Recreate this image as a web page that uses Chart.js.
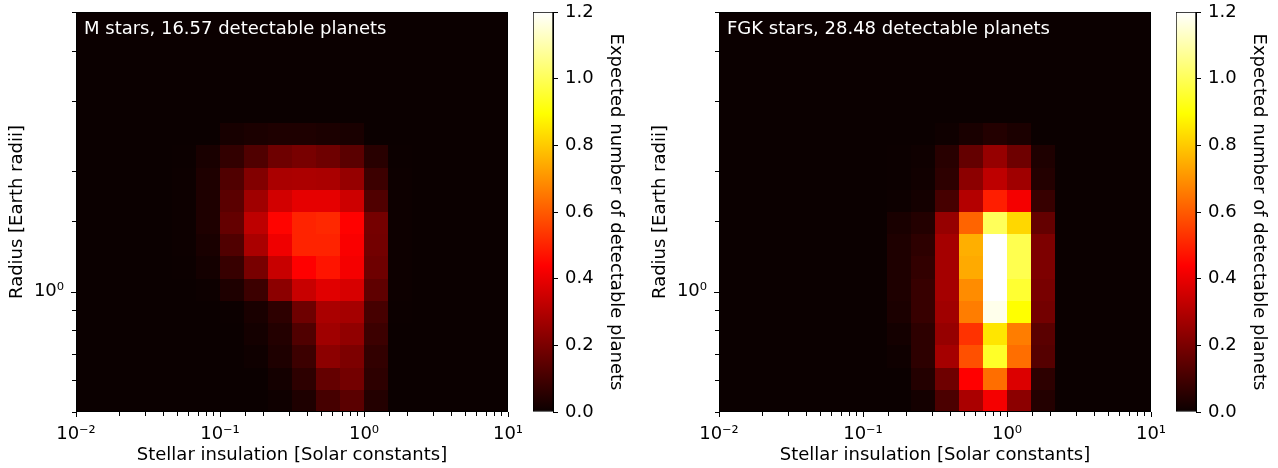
<!DOCTYPE html>
<html>
<head>
<meta charset="utf-8">
<script src="https://cdn.jsdelivr.net/npm/chart.js@4"></script>
<style>
  html, body { margin: 0; padding: 0; background: #fff; overflow: hidden; }
  #wrap { position: relative; width: 1278px; height: 468px; overflow: hidden; }
  canvas { position: absolute; top: 0; }
</style>
</head>
<body>
<div id="wrap">
  <canvas id="heatM" width="540" height="468" style="left:0px"></canvas>
  <canvas id="barM" width="118" height="468" style="left:522px"></canvas>
  <canvas id="heatFGK" width="540" height="468" style="left:643px"></canvas>
  <canvas id="barFGK" width="118" height="468" style="left:1165px"></canvas>
</div>
<script>
// bin edges: insolation 6 bins per decade, radius 18 bins per decade
const insolationEdges = [0.01, 0.01468, 0.02154, 0.03162, 0.04642, 0.06813, 0.1, 0.1468, 0.2154,
    0.3162, 0.4642, 0.6813, 1, 1.468, 2.154, 3.162, 4.642, 6.813, 10];
const radiusEdges = [0.5, 0.5683, 0.6458, 0.7339, 0.834, 0.9479, 1.0772, 1.2242, 1.3913,
    1.5811, 1.7969, 2.0421, 2.3208, 2.6375, 2.9974, 3.4064, 3.8713, 4.3996, 5];

// expected detectable planets per cell, rows from largest radius to smallest
const mStarCounts = [
    [0,0,0,0,0,0,0,0,0,0,0,0,0,0,0,0,0,0],
    [0,0,0,0,0,0,0,0,0,0,0,0,0,0,0,0,0,0],
    [0,0,0,0,0,0,0,0,0,0,0,0,0,0,0,0,0,0],
    [0,0,0,0,0,0,0,0,0,0,0,0,0,0,0,0,0,0],
    [0,0,0,0,0,0,0,0,0,0,0,0,0,0,0,0,0,0],
    [0,0,0,0,0,0,.022,.03,.035,.035,.03,.026,0,0,0,0,0,0],
    [0,0,0,0,.003,.026,.07,.124,.178,.196,.178,.142,.053,.003,0,0,0,0],
    [0,0,0,0,.005,.035,.124,.214,.286,.29,.286,.25,.089,.004,0,0,0,0],
    [0,0,0,0,.005,.035,.142,.268,.357,.393,.393,.348,.124,.005,0,0,0,0],
    [0,0,0,0,.005,.035,.16,.322,.445,.5,.51,.44,.19,.005,0,0,0,0],
    [0,0,0,0,.004,.026,.124,.286,.411,.5,.5,.43,.187,.005,0,0,0,0],
    [0,0,0,0,.003,.017,.08,.196,.339,.438,.474,.42,.178,.004,0,0,0,0],
    [0,0,0,0,0,.005,.035,.089,.232,.339,.384,.366,.151,.004,0,0,0,0],
    [0,0,0,0,0,0,.003,.026,.062,.178,.286,.277,.106,.003,0,0,0,0],
    [0,0,0,0,0,0,0,.017,.044,.124,.268,.241,.089,0,0,0,0,0],
    [0,0,0,0,0,0,0,.008,.035,.089,.232,.205,.07,0,0,0,0,0],
    [0,0,0,0,0,0,0,0,.017,.062,.16,.187,.062,0,0,0,0,0],
    [0,0,0,0,0,0,0,0,.008,.035,.107,.142,.044,0,0,0,0,0],
];
const fgkStarCounts = [
    [0,0,0,0,0,0,0,0,0,0,0,0,0,0,0,0,0,0],
    [0,0,0,0,0,0,0,0,0,0,0,0,0,0,0,0,0,0],
    [0,0,0,0,0,0,0,0,0,0,0,0,0,0,0,0,0,0],
    [0,0,0,0,0,0,0,0,0,0,0,0,0,0,0,0,0,0],
    [0,0,0,0,0,0,0,0,0,0,0,0,0,0,0,0,0,0],
    [0,0,0,0,0,0,0,0,0,.008,.026,.044,.03,0,0,0,0,0],
    [0,0,0,0,0,0,0,.003,.008,.053,.16,.25,.178,.035,0,0,0,0],
    [0,0,0,0,0,0,0,.003,.012,.062,.232,.322,.268,.044,0,0,0,0],
    [0,0,0,0,0,0,0,.005,.017,.107,.304,.492,.42,.08,0,0,0,0],
    [0,0,0,0,0,0,0,.026,.044,.25,.617,1.003,.823,.16,0,0,0,0],
    [0,0,0,0,0,0,0,.035,.062,.277,.752,1.25,.99,.205,0,0,0,0],
    [0,0,0,0,0,0,0,.035,.07,.277,.743,1.28,.99,.205,0,0,0,0],
    [0,0,0,0,0,0,0,.035,.08,.277,.689,1.25,.955,.196,0,0,0,0],
    [0,0,0,0,0,0,0,.03,.08,.268,.662,1.176,.895,.187,0,0,0,0],
    [0,0,0,0,0,0,0,.017,.062,.25,.528,.85,.662,.142,0,0,0,0],
    [0,0,0,0,0,0,0,.008,.062,.277,.581,.943,.635,.133,0,0,0,0],
    [0,0,0,0,0,0,0,0,.044,.178,.438,.635,.375,.062,0,0,0,0],
    [0,0,0,0,0,0,0,0,.017,.116,.286,.42,.232,.044,0,0,0,0],
];

const panelTitles = ['M stars, 16.57 detectable planets', 'FGK stars, 28.48 detectable planets'];
const xTickValues = [0.01, 0.1, 1, 10];
const xTickLabels = ['10\u207B\u00B2', '10\u207B\u00B9', '10\u2070', '10\u00B9'];
const yTickValues = [1];
const yTickLabels = ['10\u2070'];
const colorbarTicks = [0, 0.2, 0.4, 0.6, 0.8, 1.0, 1.2];
const vmax = 1.2;

Chart.defaults.font.family = 'DejaVu Sans';
Chart.defaults.font.size = 18;
Chart.defaults.color = '#000';

// matplotlib "hot" colormap
function hot(v) {
    const t = Math.min(Math.max(v / vmax, 0), 1);
    const r = t < 0.365079 ? 0.0416 + 0.9584 * t / 0.365079 : 1;
    const g = t < 0.365079 ? 0 : (t < 0.746032 ? (t - 0.365079) / 0.380953 : 1);
    const b = t < 0.746032 ? 0 : (t - 0.746032) / 0.253968;
    return 'rgb(' + Math.round(r * 255) + ',' + Math.round(g * 255) + ',' + Math.round(b * 255) + ')';
}

function labelFor(values, labels) {
    return function (v) {
        for (let i = 0; i < values.length; i++) {
            if (Math.abs(v - values[i]) / values[i] < 1e-6) return labels[i];
        }
        return '';
    };
}

function isMajor(v, values) {
    return values.some(m => Math.abs(v - m) / m < 1e-6);
}

// layout is pinned by the padding options, not by tick label overflow
function noLabelPadding(s) {
    s.paddingTop = 0;
    s.paddingBottom = 0;
    s.paddingLeft = 0;
    s.paddingRight = 0;
}

const heatPlugin = {
    id: 'heat',
    beforeDatasetsDraw(chart) {
        const {ctx, chartArea, scales: {x, y}} = chart;
        ctx.save();
        ctx.beginPath();
        ctx.rect(chartArea.left, chartArea.top, chartArea.right - chartArea.left, chartArea.bottom - chartArea.top);
        ctx.clip();
        chart.data.datasets[0].data.forEach(c => {
            const x0 = Math.round(x.getPixelForValue(c.x0));
            const x1 = Math.round(x.getPixelForValue(c.x1));
            const y0 = Math.round(y.getPixelForValue(c.y0));
            const y1 = Math.round(y.getPixelForValue(c.y1));
            ctx.fillStyle = hot(c.v);
            ctx.fillRect(x0, y1, x1 - x0, y0 - y1);
        });
        ctx.restore();
    },
    afterDraw(chart, args, opts) {
        const {ctx, chartArea, scales: {x, y}} = chart;
        ctx.save();
        ctx.strokeStyle = '#000';
        ctx.lineWidth = 1;
        ctx.strokeRect(chartArea.left + 0.5, chartArea.top + 0.5,
            chartArea.right - chartArea.left - 1, chartArea.bottom - chartArea.top - 1);
        x.ticks.forEach(t => {
            const px = Math.round(x.getPixelForValue(t.value)) + 0.5;
            const len = isMajor(t.value, xTickValues) ? 5 : 4;
            ctx.beginPath();
            ctx.moveTo(px, chartArea.bottom);
            ctx.lineTo(px, chartArea.bottom + len);
            ctx.stroke();
        });
        y.ticks.forEach(t => {
            const py = Math.round(y.getPixelForValue(t.value)) + 0.5;
            const len = isMajor(t.value, yTickValues) ? 5 : 4;
            ctx.beginPath();
            ctx.moveTo(chartArea.left, py);
            ctx.lineTo(chartArea.left - len, py);
            ctx.stroke();
        });
        ctx.fillStyle = '#fff';
        ctx.font = '18px "DejaVu Sans"';
        ctx.textBaseline = 'middle';
        ctx.fillText(opts.title, chartArea.left + 8, chartArea.top + 17);
        ctx.restore();
    }
};

function makeHeatmap(id, counts, title) {
    const cells = [];
    counts.forEach((row, r) => {
        const j = counts.length - 1 - r;
        row.forEach((v, i) => {
            cells.push({
                x: Math.sqrt(insolationEdges[i] * insolationEdges[i + 1]),
                y: Math.sqrt(radiusEdges[j] * radiusEdges[j + 1]),
                x0: insolationEdges[i], x1: insolationEdges[i + 1],
                y0: radiusEdges[j], y1: radiusEdges[j + 1],
                v: v
            });
        });
    });
    return new Chart(document.getElementById(id), {
        type: 'scatter',
        data: {datasets: [{data: cells, pointRadius: 0, pointHoverRadius: 0}]},
        plugins: [heatPlugin],
        options: {
            responsive: false,
            animation: false,
            events: [],
            layout: {padding: {top: 12, right: 32, bottom: 0, left: 0}},
            plugins: {
                legend: {display: false},
                tooltip: {enabled: false},
                heat: {title: title}
            },
            scales: {
                x: {
                    type: 'logarithmic',
                    min: 0.01,
                    max: 10,
                    grid: {display: false, drawTicks: false},
                    border: {display: false},
                    ticks: {autoSkip: false, maxRotation: 0, padding: 12, callback: labelFor(xTickValues, xTickLabels)},
                    title: {display: true, text: 'Stellar insulation [Solar constants]', padding: {top: 0, bottom: 2}},
                    afterFit: s => { s.height = 56; noLabelPadding(s); }
                },
                y: {
                    type: 'logarithmic',
                    min: 0.5,
                    max: 5,
                    grid: {display: false, drawTicks: false},
                    border: {display: false},
                    ticks: {autoSkip: false, padding: 12, callback: labelFor(yTickValues, yTickLabels)},
                    title: {display: true, text: 'Radius [Earth radii]', padding: {top: 7, bottom: 0}},
                    afterFit: s => { s.width = 76; noLabelPadding(s); }
                }
            }
        }
    });
}

function makeColorbar(id) {
    return new Chart(document.getElementById(id), {
        type: 'bar',
        data: {
            labels: [''],
            datasets: [{
                data: [[0, vmax]],
                backgroundColor: ctx => {
                    const chart = ctx.chart;
                    if (!chart.chartArea) return '#000';
                    const y = chart.scales.y;
                    const g = chart.ctx.createLinearGradient(0, y.getPixelForValue(0), 0, y.getPixelForValue(vmax));
                    g.addColorStop(0, 'rgb(11,0,0)');
                    g.addColorStop(0.365079, 'rgb(255,0,0)');
                    g.addColorStop(0.746032, 'rgb(255,255,0)');
                    g.addColorStop(1, 'rgb(255,255,255)');
                    return g;
                },
                borderColor: '#000',
                borderWidth: 1,
                borderSkipped: false,
                barPercentage: 1,
                categoryPercentage: 1
            }]
        },
        options: {
            responsive: false,
            animation: false,
            events: [],
            layout: {padding: {top: 12, right: 0, bottom: 56, left: 11}},
            plugins: {legend: {display: false}, tooltip: {enabled: false}},
            scales: {
                x: {display: false},
                y: {
                    position: 'right',
                    min: 0,
                    max: vmax,
                    grid: {drawOnChartArea: false, tickLength: 5, color: '#000'},
                    border: {display: true, color: '#000'},
                    ticks: {padding: 7, callback: v => v.toFixed(1)},
                    afterBuildTicks: s => { s.ticks = colorbarTicks.map(v => ({value: v})); },
                    title: {display: true, text: 'Expected number of detectable planets', padding: {top: 14, bottom: 0}},
                    afterFit: s => { s.width = 87; noLabelPadding(s); }
                }
            }
        }
    });
}

makeHeatmap('heatM', mStarCounts, panelTitles[0]);
makeColorbar('barM');
makeHeatmap('heatFGK', fgkStarCounts, panelTitles[1]);
makeColorbar('barFGK');
</script>
</body>
</html>
